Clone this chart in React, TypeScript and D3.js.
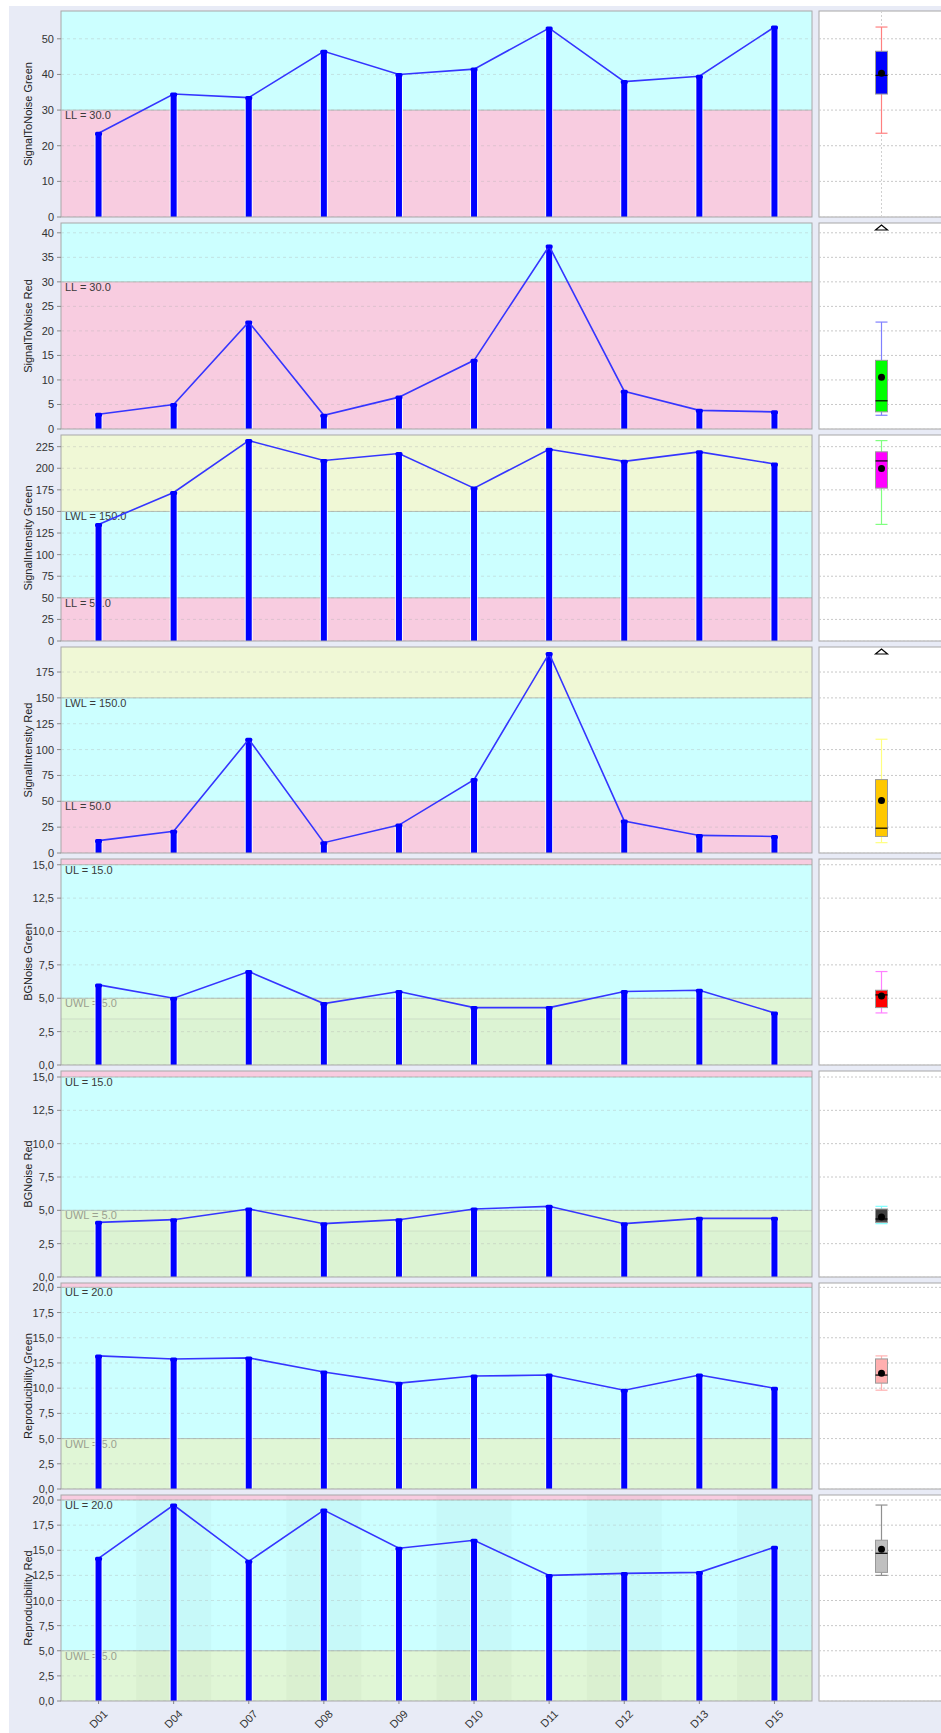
import React from 'react';
import * as d3 from 'd3';

const categories = ['D01', 'D04', 'D07', 'D08', 'D09', 'D10', 'D11', 'D12', 'D13', 'D15'];

const snGreen = [23.5, 34.5, 33.5, 46.5, 40.0, 41.5, 53.0, 38.0, 39.5, 53.3];
const snRed = [3.0, 5.0, 21.8, 2.8, 6.5, 14.0, 37.3, 7.7, 3.8, 3.5];
const siGreen = [135, 172, 232, 209, 217, 177, 222, 208, 219, 205];
const siRed = [12, 21, 110, 10, 27, 71, 193, 31, 17, 16];
const bgGreen = [6.0, 5.0, 7.0, 4.6, 5.5, 4.3, 4.3, 5.5, 5.6, 3.9];
const bgRed = [4.1, 4.3, 5.1, 4.0, 4.3, 5.1, 5.3, 4.0, 4.4, 4.4];
const repGreen = [13.2, 12.9, 13.0, 11.6, 10.5, 11.2, 11.3, 9.8, 11.3, 10.0];
const repRed = [14.2, 19.5, 13.9, 19.0, 15.2, 16.0, 12.5, 12.7, 12.8, 15.3];

const seriesList = [snGreen, snRed, siGreen, siRed, bgGreen, bgRed, repGreen, repRed];
const axisTitles = [
  'SignalToNoise Green', 'SignalToNoise Red', 'SignalIntensity Green', 'SignalIntensity Red',
  'BGNoise Green', 'BGNoise Red', 'Reproducibility Green', 'Reproducibility Red',
];
const yMaxes = [57.8, 42, 238.5, 199.2, 15.43, 15.45, 20.43, 20.5];
const tickSteps = [10, 5, 25, 25, 2.5, 2.5, 2.5, 2.5];
const tickMaxes = [50, 40, 225, 175, 15, 15, 20, 20];
const commaDecimals = [false, false, false, false, true, true, true, true];

const lowLimits = [30, 30, 50, 50, null, null, null, null];
const lowWarnLimits = [null, null, 150, 150, null, null, null, null];
const upWarnLimits = [null, null, null, null, 5, 5, 5, 5];
const upLimits = [null, null, null, null, 15, 15, 20, 20];
const innerGreenLines = [null, null, null, null, 3.45, 3.45, null, null];

const boxFills = ['#0000FF', '#00FF00', '#FF00FF', '#FFC800', '#FF0000', '#404040', '#FFAFAF', '#C0C0C0'];
const whiskerColors = ['#FF8080', '#8080FF', '#80FF80', '#FFFF80', '#FF80FF', '#80FFFF', '#FFB0B0', '#909090'];

const COL_CYAN = '#CCFFFF';
const COL_PINK = '#F8CCE0';
const COL_YELLOW = '#F0F8D6';
const COL_GREEN = '#E0F6D6';
const COL_GREEN2 = '#DCF3D3';
const BG = '#E8EBF6';
const FONT = '"Liberation Sans", Arial, sans-serif';

const plotL = 61;
const plotR = 812;
const boxL = 819;
const boxR = 946;
const boxCenter = 881.5;
const top0 = 11;
const pitch = 212;
const ph = 206;

function boxStats(values: number[]) {
  const s = [...values].sort((a, b) => a - b);
  const n = s.length;
  const half = Math.floor(n / 2);
  const lower = s.slice(0, half);
  const upper = s.slice(n - half);
  const q1 = d3.median(lower) as number;
  const q3 = d3.median(upper) as number;
  const med = d3.median(s) as number;
  const mean = d3.mean(s) as number;
  const iqr = q3 - q1;
  const hiFence = q3 + 1.5 * iqr;
  const loFence = q1 - 1.5 * iqr;
  const regular = s.filter((v) => v <= hiFence && v >= loFence);
  const wHi = d3.max(regular) as number;
  const wLo = d3.min(regular) as number;
  const farHi = s.some((v) => v > q3 + 2 * iqr);
  const outliers = s.filter((v) => (v > hiFence && v <= q3 + 2 * iqr) || (v < loFence && v >= q1 - 2 * iqr));
  return { q1, q3, med, mean, wHi, wLo, farHi, outliers };
}

function Panel({ i }: { i: number }) {
  const data = seriesList[i];
  const top = top0 + i * pitch;
  const bottom = top + ph;
  const yMax = yMaxes[i];
  const y = d3.scaleLinear().domain([0, yMax]).range([bottom, top]);
  const x = d3.scaleBand<string>().domain(categories).range([plotL, plotR]).padding(0);
  const ticks = d3.range(0, tickMaxes[i] + tickSteps[i] / 2, tickSteps[i]);
  const fmt = (v: number) => (commaDecimals[i] ? d3.format('.1f')(v).replace('.', ',') : d3.format('d')(v));
  const clipId = `clip${i}`;
  const boxClip = `bclip${i}`;

  const zones: { from: number; to: number; color: string; faint?: boolean }[] = [];
  const labels: { v: number; text: string; color: string }[] = [];
  if (lowLimits[i] != null) {
    const ll = lowLimits[i] as number;
    zones.push({ from: 0, to: ll, color: COL_PINK });
    if (lowWarnLimits[i] != null) {
      const lwl = lowWarnLimits[i] as number;
      zones.push({ from: ll, to: lwl, color: COL_CYAN });
      zones.push({ from: lwl, to: yMax, color: COL_YELLOW });
      labels.push({ v: lwl, text: `LWL = ${lwl.toFixed(1)}`, color: '#3a3a3a' });
    } else {
      zones.push({ from: ll, to: yMax, color: COL_CYAN });
    }
    labels.push({ v: ll, text: `LL = ${ll.toFixed(1)}`, color: '#3a3a3a' });
  } else {
    const uwl = upWarnLimits[i] as number;
    const ul = upLimits[i] as number;
    const g2 = innerGreenLines[i];
    if (g2 != null) {
      zones.push({ from: 0, to: g2, color: COL_GREEN2 });
      zones.push({ from: g2, to: uwl, color: COL_GREEN, faint: true });
    } else {
      zones.push({ from: 0, to: uwl, color: COL_GREEN });
    }
    zones.push({ from: uwl, to: ul, color: COL_CYAN });
    zones.push({ from: ul, to: yMax, color: COL_PINK });
    labels.push({ v: ul, text: `UL = ${ul.toFixed(1)}`, color: '#3a3a3a' });
    labels.push({ v: uwl, text: `UWL = ${uwl.toFixed(1)}`, color: '#9aa090' });
  }
  const boundaries = zones.slice(1);

  const line = d3
    .line<number>()
    .x((_, k) => (x(categories[k]) as number) + x.bandwidth() / 2)
    .y((v) => y(v));

  const st = boxStats(data);
  const bx = boxCenter;
  const bw = 12;

  return (
    <g>
      <defs>
        <clipPath id={clipId}>
          <rect x={plotL} y={top} width={plotR - plotL} height={ph} />
        </clipPath>
        <clipPath id={boxClip}>
          <rect x={boxL - 1} y={top - 10} width={200} height={ph + 20} />
        </clipPath>
      </defs>
      <g clipPath={`url(#${clipId})`}>
        {zones.map((z, k) => (
          <rect key={k} x={plotL} width={plotR - plotL} y={y(z.to)} height={y(z.from) - y(z.to)} fill={z.color} />
        ))}
        {i === 7 &&
          categories.map((c, k) =>
            k % 2 === 1 ? (
              <rect key={c} x={x(c)} width={x.bandwidth()} y={top} height={ph} fill="#000" opacity={0.025} />
            ) : null,
          )}
        {ticks.map((t) => (
          <line key={t} x1={plotL} x2={plotR} y1={y(t)} y2={y(t)} stroke="#b0b0b0" strokeOpacity={0.35} strokeDasharray="3,3" />
        ))}
        {boundaries.map((b, k) => (
          <line
            key={k}
            x1={plotL}
            x2={plotR}
            y1={y(b.from)}
            y2={y(b.from)}
            stroke="#a0a8a0"
            strokeOpacity={b.faint ? 0.25 : 0.7}
          />
        ))}
        {labels.map((l, k) => (
          <text key={k} x={plotL + 4} y={y(l.v) + 9} fontFamily={FONT} fontSize={11} fill={l.color}>
            {l.text}
          </text>
        ))}
        {data.map((v, k) => {
          const cx = (x(categories[k]) as number) + x.bandwidth() / 2;
          return (
            <g key={k}>
              <rect x={cx - 4} width={8} y={y(v)} height={bottom - y(v)} fill="#ffffff" opacity={0.85} />
              <rect x={cx - 3} width={6} y={y(v)} height={bottom - y(v)} fill="#0000FF" />
            </g>
          );
        })}
        <path d={line(data) as string} fill="none" stroke="#3535FF" strokeWidth={1.6} />
        {data.map((v, k) => {
          const cx = (x(categories[k]) as number) + x.bandwidth() / 2;
          return <rect key={k} x={cx - 3.5} y={y(v) - 1.5} width={7} height={4} rx={1.5} fill="#0000FF" />;
        })}
      </g>
      <rect x={plotL} y={top} width={plotR - plotL} height={ph} fill="none" stroke="#a8a8a8" />
      {ticks.map((t) => (
        <g key={t}>
          <line x1={plotL - 4} x2={plotL} y1={y(t)} y2={y(t)} stroke="#888" />
          <text x={plotL - 7} y={y(t) + 4} textAnchor="end" fontFamily={FONT} fontSize={11} fill="#333">
            {fmt(t)}
          </text>
        </g>
      ))}
      <text
        transform={`translate(${29},${(top + bottom) / 2}) rotate(-90)`}
        textAnchor="middle"
        dominantBaseline="middle"
        fontFamily={FONT}
        fontSize={11}
        fill="#222"
      >
        {axisTitles[i]}
      </text>

      {/* box plot panel */}
      <g clipPath={`url(#${boxClip})`}>
        <rect x={boxL} y={top} width={boxR - boxL} height={ph} fill="#ffffff" stroke="#a8a8a8" />
        {ticks.map((t) => (
          <line key={t} x1={boxL} x2={boxR} y1={y(t)} y2={y(t)} stroke="#c8c8c8" strokeDasharray="2,2" />
        ))}
        {i === 0 && <line x1={bx} x2={bx} y1={top} y2={bottom} stroke="#d0d0d0" strokeDasharray="2,2" />}
        <line x1={bx} x2={bx} y1={y(st.wHi)} y2={y(st.q3)} stroke={whiskerColors[i]} strokeWidth={1.2} />
        <line x1={bx} x2={bx} y1={y(st.q1)} y2={y(st.wLo)} stroke={whiskerColors[i]} strokeWidth={1.2} />
        <line x1={bx - bw / 2} x2={bx + bw / 2} y1={y(st.wHi)} y2={y(st.wHi)} stroke={whiskerColors[i]} strokeWidth={1.2} />
        <line x1={bx - bw / 2} x2={bx + bw / 2} y1={y(st.wLo)} y2={y(st.wLo)} stroke={whiskerColors[i]} strokeWidth={1.2} />
        <rect x={bx - bw / 2} width={bw} y={y(st.q3)} height={y(st.q1) - y(st.q3)} fill={boxFills[i]} stroke="#999" />
        <line x1={bx - bw / 2} x2={bx + bw / 2} y1={y(st.med)} y2={y(st.med)} stroke="#000" strokeWidth={1.2} />
        <circle cx={bx} cy={y(st.mean)} r={3.5} fill="#000" />
        {st.outliers.map((o, k) => (
          <circle key={k} cx={bx} cy={y(o)} r={3} fill="none" stroke="#000" />
        ))}
        {st.farHi && (
          <path d={`M${bx - 6},${top + 7} L${bx},${top + 2} L${bx + 6},${top + 7} Z`} fill="#fff" stroke="#000" strokeWidth={1.2} />
        )}
      </g>

      {i === seriesList.length - 1 &&
        categories.map((c) => {
          const cx = (x(c) as number) + x.bandwidth() / 2;
          return (
            <g key={c}>
              <line x1={cx} x2={cx} y1={bottom} y2={bottom + 3} stroke="#888" />
              <text
                transform={`translate(${cx + 4},${bottom + 8}) rotate(-45)`}
                textAnchor="end"
                dominantBaseline="hanging"
                fontFamily={FONT}
                fontSize={11}
                fill="#333"
              >
                {c}
              </text>
            </g>
          );
        })}
    </g>
  );
}

export default function App() {
  return (
    <svg width={941} height={1733} style={{ position: 'absolute', left: 0, top: 0 }}>
      <rect x={0} y={0} width={941} height={1733} fill="#ffffff" />
      <rect x={9} y={6} width={932} height={1727} fill={BG} />
      {seriesList.map((_, i) => (
        <Panel key={i} i={i} />
      ))}
    </svg>
  );
}
